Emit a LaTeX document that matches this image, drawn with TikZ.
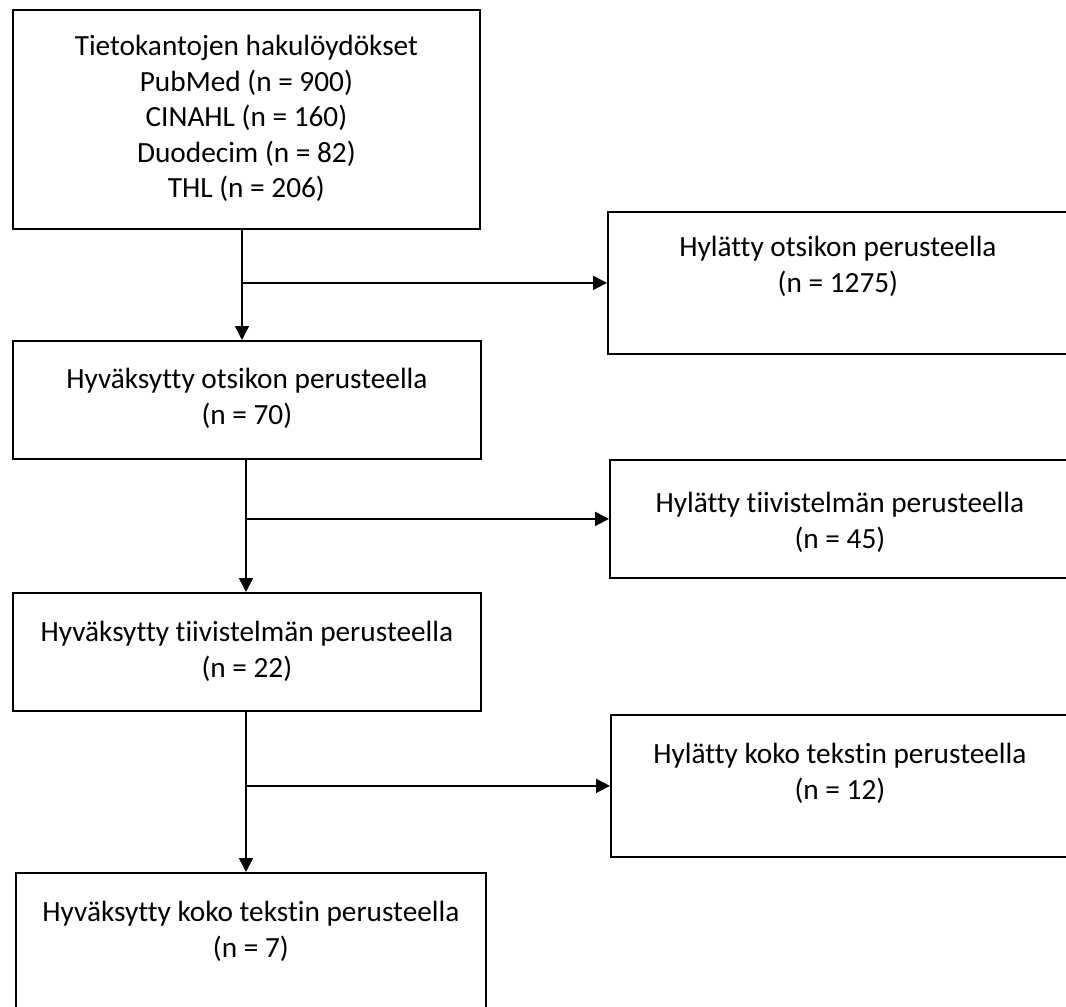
\documentclass[tikz,border=0pt]{standalone}
\usepackage{fontspec}
\setmainfont{Carlito}[Ligatures=NoCommon]
\usetikzlibrary{arrows.meta}
\begin{document}
\begin{tikzpicture}[x=1pt,y=-1pt,
  box/.style={draw=black, line width=1.8pt, inner sep=0pt, anchor=north west, rectangle},
  txt/.style={anchor=north, align=center, inner sep=0pt, font=\fontsize{29.3pt}{35.5pt}\selectfont},
  arr/.style={draw=black, line width=1.8pt, -{Triangle[length=14pt,width=14pt]}},
  ln/.style={draw=black, line width=1.8pt}]
\useasboundingbox (0,0) rectangle (1066,1007);
\clip (0,0) rectangle (1066,1007);
\fill[white] (0,0) rectangle (1066,1007);
% left column
\node[box, minimum width=467pt, minimum height=219pt] (b1) at (12,9) {};
\node[box, minimum width=468pt, minimum height=118pt] (b2) at (12,340) {};
\node[box, minimum width=468pt, minimum height=118pt] (b3) at (12,592) {};
\node[box, minimum width=470pt, minimum height=200pt] (b4) at (15,872) {};
% right column
\node[box, minimum width=460pt, minimum height=142pt] (r1) at (607,211) {};
\node[box, minimum width=460pt, minimum height=118pt] (r2) at (609,459) {};
\node[box, minimum width=458pt, minimum height=142pt] (r3) at (610,714) {};
% texts
\node[txt, yshift=-26pt] (t1) at (b1.north) {Tietokantojen hakulöydökset\\PubMed (n = 900)\\CINAHL (n = 160)\\Duodecim (n = 82)\\THL (n = 206)};
\node[txt, yshift=-28pt] (t2) at (b2.north) {Hyväksytty otsikon perusteella\\(n = 70)};
\node[txt, yshift=-29pt] (t3) at (b3.north) {Hyväksytty tiivistelmän perusteella\\(n = 22)};
\node[txt, yshift=-29pt] (t4) at (b4.north) {Hyväksytty koko tekstin perusteella\\(n = 7)};
\node[txt, yshift=-25pt] (s1) at (r1.north) {Hylätty otsikon perusteella\\(n = 1275)};
\node[txt, yshift=-33pt] (s2) at (r2.north) {Hylätty tiivistelmän perusteella\\(n = 45)};
\node[txt, yshift=-29pt] (s3) at (r3.north) {Hylätty koko tekstin perusteella\\(n = 12)};
% connectors
\coordinate (c1) at (242,0);
\coordinate (c2) at (246,0);
\draw[arr] (b1.south -| c1) -- (b2.north -| c1);
\draw[arr] (r1.west -| c1) -- (r1.west);
\draw[arr] (b2.south -| c2) -- (b3.north -| c2);
\draw[arr] (r2.west -| c2) -- (r2.west);
\draw[arr] (b3.south -| c2) -- (b4.north -| c2);
\draw[arr] (r3.west -| c2) -- (r3.west);
\end{tikzpicture}
\end{document}
